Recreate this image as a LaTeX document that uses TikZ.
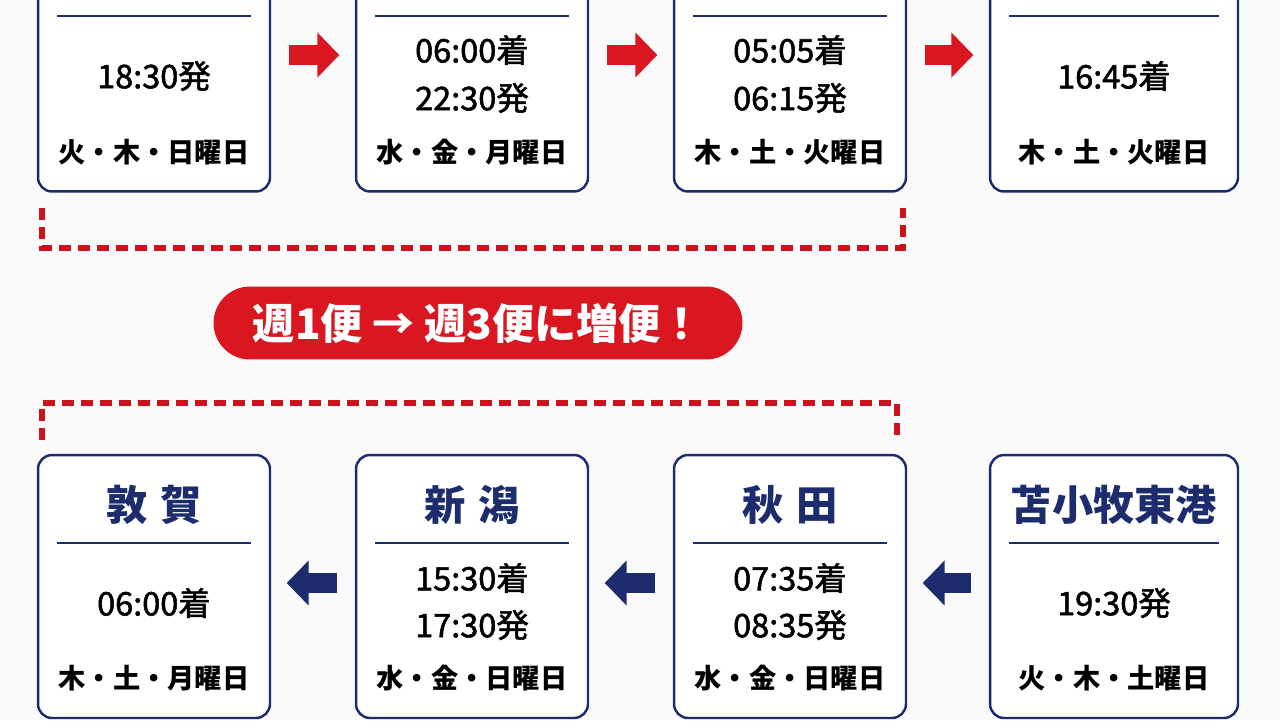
\documentclass[tikz,border=0pt]{standalone}
\usepackage{fontspec}
\setmainfont{Noto Sans CJK JP}
\usetikzlibrary{arrows.meta}
\definecolor{navy}{HTML}{1C2C6C}
\definecolor{ferryred}{HTML}{DA1720}
\definecolor{dashred}{HTML}{CC121C}
\definecolor{paper}{HTML}{FAFAFB}
\tikzset{
  port/.style={draw=navy,line width=1.4pt,rounded corners=0.28cm,fill=white,minimum width=4.64cm,minimum height=5.26cm,inner sep=0pt},
  wideport/.style={port,minimum width=4.96cm},
  place/.style={font=\fontsize{23.5}{23.5}\selectfont\bfseries,text=navy},
  time/.style={font=\fontsize{18.5}{18.5}\selectfont\addfontfeatures{FakeBold=1.6}},
  days/.style={font=\fontsize{15.5}{15.5}\selectfont\bfseries},
  rule/.style={navy,line width=1.1pt},
  hop/.style={line width=0.4cm,-{Triangle[length=0.44cm,width=0.88cm]},shorten <=0.35cm,shorten >=0.31cm},
  link/.style={dashred,line width=3.2pt,dash pattern=on 0.24cm off 0.14cm},
  pill/.style={fill=ferryred,text=white,rounded corners=0.73cm,minimum width=10.58cm,minimum height=1.46cm,font=\fontsize{24}{24}\selectfont\bfseries}
}
\begin{document}
\begin{tikzpicture}[x=0.02cm,y=-0.02cm]
\fill[paper] (0,0) rectangle (1280,720);
\clip (0,0) rectangle (1280,720);
% outbound row
\node[port] (out1) at (154,60) {};
\node[port] (out2) at (472,60) {};
\node[port] (out3) at (790,60) {};
\node[wideport] (out4) at (1114,60) {};
\node[time] (out1a) at (154,76) {18:30発};
\node[days] (out1d) at (154,152) {火・木・日曜日};
\node[time] (out2a) at (472,50) {06:00着};
\node[time] (out2b) at (472,98) {22:30発};
\node[days] (out2d) at (472,152) {水・金・月曜日};
\node[time] (out3a) at (790,50) {05:05着};
\node[time] (out3b) at (790,98) {06:15発};
\node[days] (out3d) at (790,152) {木・土・火曜日};
\node[time] (out4a) at (1114,76) {16:45着};
\node[days] (out4d) at (1114,152) {木・土・火曜日};
% return row
\node[port] (ret1) at (154,586.5) {};
\node[port] (ret2) at (472,586.5) {};
\node[port] (ret3) at (790,586.5) {};
\node[wideport] (ret4) at (1114,586.5) {};
\node[place] (ret1n) at (154,505) {敦\hspace{0.3em}賀};
\node[time] (ret1a) at (154,603) {06:00着};
\node[days] (ret1d) at (154,678) {木・土・月曜日};
\node[place] (ret2n) at (472,505) {新\hspace{0.3em}潟};
\node[time] (ret2a) at (472,578) {15:30着};
\node[time] (ret2b) at (472,625) {17:30発};
\node[days] (ret2d) at (472,678) {水・金・日曜日};
\node[place] (ret3n) at (790,505) {秋\hspace{0.3em}田};
\node[time] (ret3a) at (790,578) {07:35着};
\node[time] (ret3b) at (790,625) {08:35発};
\node[days] (ret3d) at (790,678) {水・金・日曜日};
\node[place] (ret4n) at (1114,505) {苫小牧東港};
\node[time] (ret4a) at (1114,603) {19:30発};
\node[days] (ret4d) at (1114,678) {火・木・土曜日};
\foreach \n in {out1,out2,out3,out4,ret1,ret2,ret3,ret4}
  \draw[rule] ([shift={(20,89)}]\n.north west)--([shift={(-20,89)}]\n.north east);
% arrows
\foreach \u/\v in {out1/out2,out2/out3,out3/out4}
  \draw[hop,ferryred] ([yshift=0.1cm]\u.east)--([yshift=0.1cm]\v.west);
\foreach \u/\v in {ret4/ret3,ret3/ret2,ret2/ret1}
  \draw[hop,navy] ([yshift=0.07cm]\u.west)--([yshift=0.07cm]\v.east);
% brackets and note
\node[pill] (more) at (478,323) {週1便 → 週3便に増便！};
\coordinate (ta) at (42,208);
\coordinate (tb) at (903,208);
\coordinate (ba) at (42,440);
\coordinate (bb) at (897,440);
\draw[link] (ta)--++(0,40)-|(tb);
\draw[link] (ba)--++(0,-37)-|(bb);
\end{tikzpicture}
\end{document}
